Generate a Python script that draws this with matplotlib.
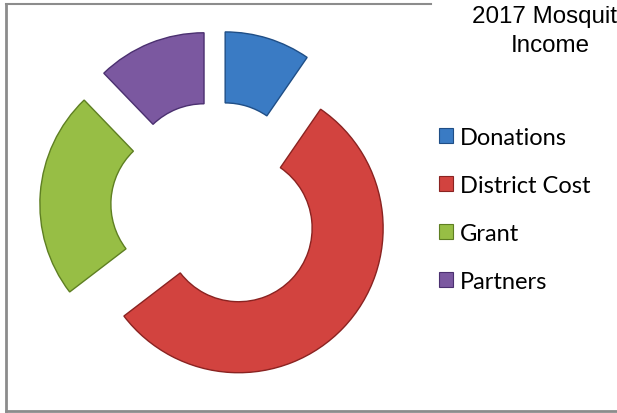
import matplotlib.pyplot as plt
from matplotlib.patches import Patch

labels = ['Donations', 'District Cost', 'Grant', 'Partners']
values = [9.6, 55.0, 23.2, 12.2]
colors = ['#3A7BC4', '#D2433F', '#97BE45', '#7B58A0']
edges = ['#1F4E86', '#8A2321', '#5E7F22', '#4B3070']
title_line1 = '2017 Mosquit'   # cut off at the right edge in the original
title_line2 = 'Income'

W, H = 617, 414
fig = plt.figure(figsize=(W / 100, H / 100), dpi=100)
ax = fig.add_axes([0, 0, 1, 1])

# donut in pixel coords (y flipped, so counterclock=True draws clockwise on screen)
R = 144.5
wedges, _ = ax.pie(values, colors=colors, startangle=-90, counterclock=True,
                   radius=R, center=(215.8, 207.5), explode=[31.5] * 4,
                   wedgeprops=dict(width=71, linewidth=1.0), frame=True)
for w, ec in zip(wedges, edges):
    w.set_edgecolor(ec)
ax.set_xlim(0, W)
ax.set_ylim(H, 0)
ax.set_aspect('equal')
ax.axis('off')

# chart frame (partly cropped)
ax.plot([6, 6], [4.5, 412], color='#8c8c8c', lw=2)
ax.plot([6, 431], [4.5, 4.5], color='#8c8c8c', lw=1.5)
ax.plot([6, W], [412, 412], color='#8c8c8c', lw=2)

ax.text(472, 17, title_line1, ha='left', va='center', fontsize=17.4,
        family='Liberation Sans')
ax.text(550, 46, title_line2, ha='center', va='center', fontsize=17.4,
        family='Liberation Sans')

handles = [Patch(facecolor=c, edgecolor=e, lw=0.8) for c, e in zip(colors, edges)]
leg = ax.legend(handles, labels, loc='upper left', bbox_to_anchor=(427 / W, 1 - 116 / H),
                frameon=False, handlelength=0.6, handleheight=0.6, borderpad=0,
                handletextpad=0.3, labelspacing=1.15, prop={'family': 'Lato', 'size': 17})

fig.savefig('out.png', dpi=100)
